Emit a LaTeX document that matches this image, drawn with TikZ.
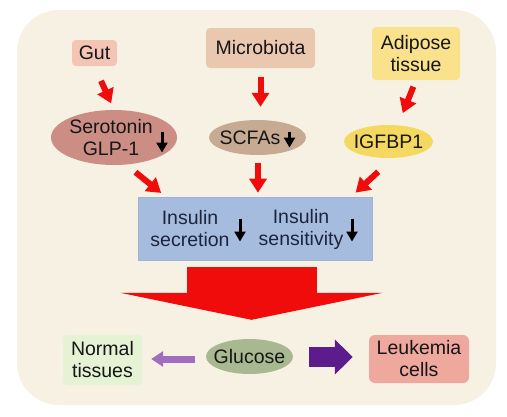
\documentclass[tikz,border=0pt]{standalone}
\usepackage{fontspec}
\setmainfont{Liberation Sans}
\usetikzlibrary{arrows.meta,calc,shapes.geometric}
\definecolor{bgc}{RGB}{247,241,227}
\definecolor{gutc}{RGB}{244,196,180}
\definecolor{micc}{RGB}{234,200,176}
\definecolor{adic}{RGB}{250,226,140}
\definecolor{seroc}{RGB}{204,142,132}
\definecolor{scfc}{RGB}{199,170,146}
\definecolor{igfc}{RGB}{245,216,96}
\definecolor{insc}{RGB}{166,188,222}
\definecolor{insb}{RGB}{158,180,214}
\definecolor{norc}{RGB}{229,242,212}
\definecolor{gluc}{RGB}{168,184,144}
\definecolor{leuc}{RGB}{239,168,158}
\definecolor{arrred}{RGB}{240,12,10}
\definecolor{lpur}{RGB}{160,110,190}
\definecolor{dpur}{RGB}{92,28,140}
\definecolor{txt}{RGB}{22,22,22}
\definecolor{instxt}{RGB}{28,36,62}
\tikzset{
  fnt/.style={font=\fontsize{19.5}{22}\selectfont},
  box/.style={rectangle, rounded corners=4pt, inner sep=0pt, text=txt, align=center, fnt},
  ell/.style={ellipse, inner sep=0pt, text=txt, align=center, fnt},
  lbl/.style={text=txt, align=center, inner sep=0pt, fnt},
  redarr/.style={draw=arrred, line width=6pt, -{Triangle[width=17pt,length=14pt]}},
  darr/.style={draw=black, line width=3pt, -{Triangle[width=11pt,length=10pt]}},
  instext/.style={text=instxt, align=center, inner sep=0pt, fnt}
}
\begin{document}
\begin{tikzpicture}[x=1pt,y=-1pt]
\useasboundingbox (0,0) rectangle (507,416);
\fill[white] (0,0) rectangle (507,416);
\fill[bgc, rounded corners=42pt] (17,10) rectangle (496,405);

% top nodes
\node[box, fill=gutc, minimum width=45pt, minimum height=26pt] (gut) at (94.5,53) {Gut};
\node[box, fill=micc, minimum width=109pt, minimum height=40pt] (mic) at (260.5,48) {Microbiota};
\node[box, fill=adic, minimum width=88pt, minimum height=53pt] (adi) at (416,53.5) {Adipose\\tissue};

% middle ellipses
\node[ell, fill=seroc, minimum width=126pt, minimum height=55pt] (sero) at (114,137.5) {};
\node[lbl] (serot) at (111,138) {Serotonin\\GLP-1};
\node[ell, fill=scfc, minimum width=97pt, minimum height=35pt] (scfa) at (257.5,137.5) {};
\node[lbl] (scfat) at (250,138) {SCFAs};
\node[ell, fill=igfc, minimum width=89pt, minimum height=33pt] (igf) at (388.5,141.5) {};
\node[lbl] (igft) at (388.5,141.5) {IGFBP1};

% insulin box
\node[rectangle, fill=insc, draw=insb, line width=0.6pt, minimum width=234pt, minimum height=63pt] (ins) at (255,228.5) {};
\node[instext] (sec) at (190,229) {Insulin\\secretion};
\node[instext] (sen) at (301,229) {Insulin\\sensitivity};

% bottom nodes
\node[box, fill=norc, minimum width=79pt, minimum height=50pt] (nor) at (102.5,360) {Normal\\tissues};
\node[ell, fill=gluc, minimum width=87pt, minimum height=35pt] (glu) at (249.5,356.5) {};
\node[lbl] (glut) at (249.5,356.5) {Glucose};
\node[box, fill=leuc, minimum width=100pt, minimum height=48pt, rounded corners=6pt] (leu) at (419,359) {Leukemia\\cells};

% red arrows top row
\draw[redarr, shorten <=16pt, shorten >=7pt] (gut.south) -- (sero.north);
\draw[redarr, shorten <=9pt, shorten >=13pt] (mic.south) -- (mic.south |- scfa.north);
\draw[redarr, shorten <=7pt, shorten >=13pt] (adi.south) -- (igf.60);

% red arrows second row
\draw[redarr, shorten <=12pt, shorten >=6pt] (sero.-66) -- ($(ins.north west)!0.12!(ins.north east)$);
\draw[redarr, shorten <=8pt, shorten >=4pt] ([xshift=0.5pt]scfa.south) -- ([xshift=0.5pt]scfa.south |- ins.north);
\draw[redarr, shorten <=20pt, shorten >=6pt] (igf.-75) -- ($(ins.north west)!0.91!(ins.north east)$);

% big red arrow
\draw[draw=arrred, line width=130pt, -{Triangle[width=262pt,length=27pt]}, shorten <=7pt, shorten >=19pt]
  ([xshift=-3.5pt]ins.south) -- ([xshift=2pt]glu.north);

% purple arrows
\draw[draw=lpur, line width=7pt, -{Triangle[width=15pt,length=12pt]}, shorten <=11pt, shorten >=9pt]
  ([yshift=-2.5pt]glu.west) -- ([yshift=-2.5pt]glu.west -| nor.east);
\draw[draw=dpur, line width=20pt, -{Triangle[width=34pt,length=18pt]}, shorten <=16pt, shorten >=16pt]
  ([yshift=-0.5pt]glu.east) -- ([yshift=-0.5pt]glu.east -| leu.west);

% small down arrows
\draw[darr] ($(sero.center)+(48,-6)$) -- ++(0,21);
\draw[darr] ($(scfa.center)+(32,-6)$) -- ++(0,16);
\draw[darr] ($(ins.center)+(-15,-10)$) -- ++(0,23);
\draw[darr] ($(ins.center)+(97,-10)$) -- ++(0,23);
\end{tikzpicture}
\end{document}
